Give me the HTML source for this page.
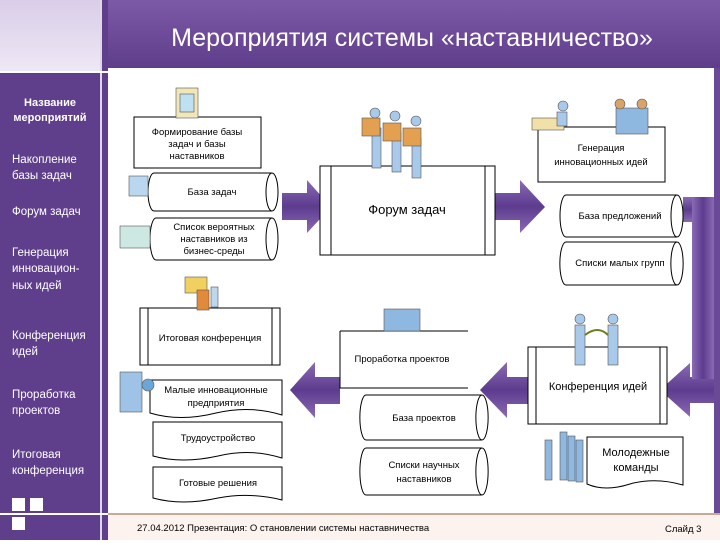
<!DOCTYPE html>
<html><head><meta charset="utf-8"><style>
body{margin:0;width:720px;height:540px;overflow:hidden;background:#fff;font-family:"Liberation Sans","DejaVu Sans",sans-serif;}
svg text{font-family:"Liberation Sans","DejaVu Sans",sans-serif;}
</style></head><body>
<svg width="720" height="540" viewBox="0 0 720 540" xmlns="http://www.w3.org/2000/svg">
<defs>
<linearGradient id="lb" x1="0" y1="0" x2="0" y2="1"><stop offset="0" stop-color="#d9cde8"/><stop offset="1" stop-color="#eee8f5"/></linearGradient>
<linearGradient id="tb" x1="0" y1="0" x2="0" y2="1"><stop offset="0" stop-color="#7d5aa8"/><stop offset="1" stop-color="#5e3d8a"/></linearGradient>
<linearGradient id="ar" x1="0" y1="0" x2="0" y2="1"><stop offset="0" stop-color="#8a6bb5"/><stop offset="0.5" stop-color="#5d3b8e"/><stop offset="1" stop-color="#8a6bb5"/></linearGradient>
<linearGradient id="av" x1="0" y1="0" x2="1" y2="0"><stop offset="0" stop-color="#8a6bb5"/><stop offset="0.5" stop-color="#5d3b8e"/><stop offset="1" stop-color="#8a6bb5"/></linearGradient>
</defs>
<!-- sidebar -->
<rect x="0" y="0" width="108" height="540" fill="#5f3f8c"/>
<rect x="0" y="0" width="100" height="71" fill="url(#lb)"/>
<rect x="0" y="71" width="108" height="2" fill="#fff"/>
<rect x="100" y="0" width="2" height="540" fill="#fff" opacity="0.8"/>
<!-- title -->
<rect x="108" y="0" width="612" height="68" fill="url(#tb)"/>
<text x="412" y="46" fill="#fff" font-size="25" text-anchor="middle">Мероприятия системы «наставничество»</text>
<rect x="108" y="68" width="612" height="447" fill="#fff"/>
<rect x="714" y="68" width="6" height="447" fill="#6a4a96"/>
<!-- footer -->
<rect x="0" y="513" width="720" height="2" fill="#fff"/>
<rect x="108" y="515" width="612" height="25" fill="#fdf3ee"/>
<rect x="108" y="513" width="612" height="2" fill="#c9a89a"/>
<text x="137" y="531" font-size="9.5" fill="#000">27.04.2012  Презентация: О становлении системы наставничества</text>
<text x="665" y="532" font-size="9.5" fill="#000">Слайд 3</text>
<rect x="12" y="498" width="13" height="13" fill="#fff"/><rect x="30" y="498" width="13" height="13" fill="#fff"/><rect x="12" y="517" width="13" height="13" fill="#fff"/>
<!-- sidebar text -->
<g fill="#fff" font-size="11.5">
<text x="50" y="106" text-anchor="middle" font-weight="bold" font-size="11">Название</text>
<text x="50" y="121" text-anchor="middle" font-weight="bold" font-size="11">мероприятий</text>
<text x="12" y="163">Накопление</text><text x="12" y="179">базы задач</text>
<text x="12" y="215">Форум задач</text>
<text x="12" y="256">Генерация</text><text x="12" y="272">инновацион-</text><text x="12" y="289">ных идей</text>
<text x="12" y="339">Конференция</text><text x="12" y="355">идей</text>
<text x="12" y="398">Проработка</text><text x="12" y="414">проектов</text>
<text x="12" y="458">Итоговая</text><text x="12" y="474">конференция</text>
</g>
<!-- arrows -->
<g fill="url(#ar)">
<path d="M282 193 H307 V180 L331 207 L307 233 V220 H282 Z"/>
<path d="M495 193 H520 V180 L545 207 L520 233 V220 H495 Z"/>
<rect x="683" y="197" width="31" height="25"/>
<path d="M714 377 H690 V363 L660 390 L690 417 V403 H714 Z"/>
<path d="M528 377 H507 V362 L480 390 L507 418 V404 H528 Z"/>
<path d="M340 377 H315 V362 L290 390 L315 418 V404 H340 Z"/>
</g>
<rect x="692" y="197" width="22" height="182" fill="url(#av)"/>
<!-- shapes -->
<g fill="#fff" stroke="#000" stroke-width="1">
<rect x="134" y="117" width="127" height="51"/>
<path d="M154 173 H272 A6 19 0 0 1 272 211 H154 A6 19 0 0 1 154 173 Z"/><path d="M272 173 A6 19 0 0 0 272 211"/>
<path d="M156 218 H272 A6 21 0 0 1 272 260 H156 A6 21 0 0 1 156 218 Z"/><path d="M272 218 A6 21 0 0 0 272 260"/>
<rect x="320" y="166" width="175" height="89"/><line x1="331" y1="166" x2="331" y2="255"/><line x1="485" y1="166" x2="485" y2="255"/>
<rect x="538" y="127" width="127" height="55"/>
<path d="M566 195 H677 A6 21 0 0 1 677 237 H566 A6 21 0 0 1 566 195 Z"/><path d="M677 195 A6 21 0 0 0 677 237"/>
<path d="M566 242 H677 A6 21 0 0 1 677 285 H566 A6 21 0 0 1 566 242 Z"/><path d="M677 242 A6 21 0 0 0 677 285"/>
<rect x="140" y="308" width="140" height="57"/><line x1="148" y1="308" x2="148" y2="365"/><line x1="272" y1="308" x2="272" y2="365"/>
<path d="M340 331 H468 M340 331 V388 H468" fill="none"/>
<path d="M366 395 H482 A6 22 0 0 1 482 440 H366 A6 22 0 0 1 366 395 Z"/><path d="M482 395 A6 22 0 0 0 482 440"/>
<path d="M366 448 H482 A6 23 0 0 1 482 495 H366 A6 23 0 0 1 366 448 Z"/><path d="M482 448 A6 23 0 0 0 482 495"/>
<rect x="528" y="347" width="139" height="77"/><line x1="536" y1="347" x2="536" y2="424"/><line x1="660" y1="347" x2="660" y2="424"/>
<path d="M150 380 H282 V415 Q250 405 216 413 Q180 422 150 413 Z"/>
<path d="M153 422 H282 V458 Q250 448 218 456 Q182 464 153 456 Z"/>
<path d="M153 467 H282 V500 Q250 492 218 498 Q182 506 153 498 Z"/>
<path d="M587 437 H683 V485 Q655 477 630 484 Q605 492 587 484 Z"/>
</g>
<!-- labels -->
<g font-size="9.5" fill="#000" text-anchor="middle">
<text x="197" y="135">Формирование базы</text><text x="197" y="147">задач и базы</text><text x="197" y="159">наставников</text>
<text x="212" y="195">База задач</text>
<text x="214" y="230">Список вероятных</text><text x="214" y="242">наставников из</text><text x="214" y="254">бизнес-среды</text>
<text x="407" y="214" font-size="13">Форум задач</text>
<text x="601" y="151" font-family="Liberation Serif,serif">Генерация</text><text x="601" y="165" font-family="Liberation Serif,serif">инновационных идей</text>
<text x="620" y="219">База предложений</text>
<text x="620" y="266">Списки малых групп</text>
<text x="210" y="341" font-family="Liberation Serif,serif">Итоговая конференция</text>
<text x="402" y="362" font-family="Liberation Serif,serif">Проработка проектов</text>
<text x="424" y="421">База проектов</text>
<text x="424" y="468">Списки научных</text><text x="424" y="482">наставников</text>
<text x="598" y="390" font-family="Liberation Serif,serif" font-size="11">Конференция идей</text>
<text x="216" y="393">Малые инновационные</text><text x="216" y="406">предприятия</text>
<text x="218" y="441">Трудоустройство</text>
<text x="218" y="486">Готовые решения</text>
<text x="636" y="456" font-size="11">Молодежные</text><text x="636" y="471" font-size="11">команды</text>
</g>
<!-- icons -->
<g stroke="#555" stroke-width="0.6">
<rect x="176" y="88" width="22" height="30" fill="#f1e6b8"/><rect x="180" y="94" width="14" height="18" fill="#bfe0f0"/>
<rect x="129" y="176" width="19" height="20" fill="#b9d8ef"/>
<rect x="120" y="226" width="30" height="22" fill="#cde8e3"/>
<g fill="#a9c9ea"><rect x="372" y="128" width="9" height="40"/><rect x="392" y="132" width="9" height="40"/><rect x="412" y="138" width="9" height="40"/></g>
<g fill="#e3a050"><rect x="362" y="118" width="18" height="18"/><rect x="383" y="123" width="18" height="18"/><rect x="403" y="128" width="18" height="18"/></g>
<g fill="#a9c9ea"><circle cx="375" cy="113" r="5"/><circle cx="395" cy="116" r="5"/><circle cx="416" cy="121" r="5"/></g>
<rect x="532" y="118" width="32" height="12" fill="#f1e0a8"/><circle cx="563" cy="106" r="5" fill="#a9c9ea"/><rect x="557" y="112" width="10" height="14" fill="#a9c9ea"/>
<rect x="616" y="108" width="32" height="26" fill="#8fb8e0"/><circle cx="620" cy="104" r="5" fill="#d9a46a"/><circle cx="642" cy="104" r="5" fill="#d9a46a"/>
<rect x="185" y="277" width="22" height="16" fill="#f2d060"/><rect x="197" y="290" width="12" height="20" fill="#e38a3a"/><rect x="211" y="287" width="7" height="20" fill="#bcd7ee"/>
<rect x="384" y="309" width="36" height="22" fill="#8fb8e0"/>
<rect x="120" y="372" width="22" height="40" fill="#9ec3e6"/><circle cx="148" cy="385" r="6" fill="#6aa6d8"/>
<g fill="#a9c9ea"><rect x="575" y="325" width="10" height="40"/><rect x="608" y="325" width="10" height="40"/><circle cx="580" cy="319" r="5"/><circle cx="613" cy="319" r="5"/></g>
<path d="M585 335 Q598 325 608 335" fill="none" stroke="#6b7c20" stroke-width="2"/>
<g fill="#8fb8e0"><rect x="545" y="440" width="7" height="40"/><rect x="560" y="432" width="7" height="48"/><rect x="568" y="436" width="7" height="45"/><rect x="576" y="440" width="7" height="42"/></g>
</g>
</svg>
</body></html>
